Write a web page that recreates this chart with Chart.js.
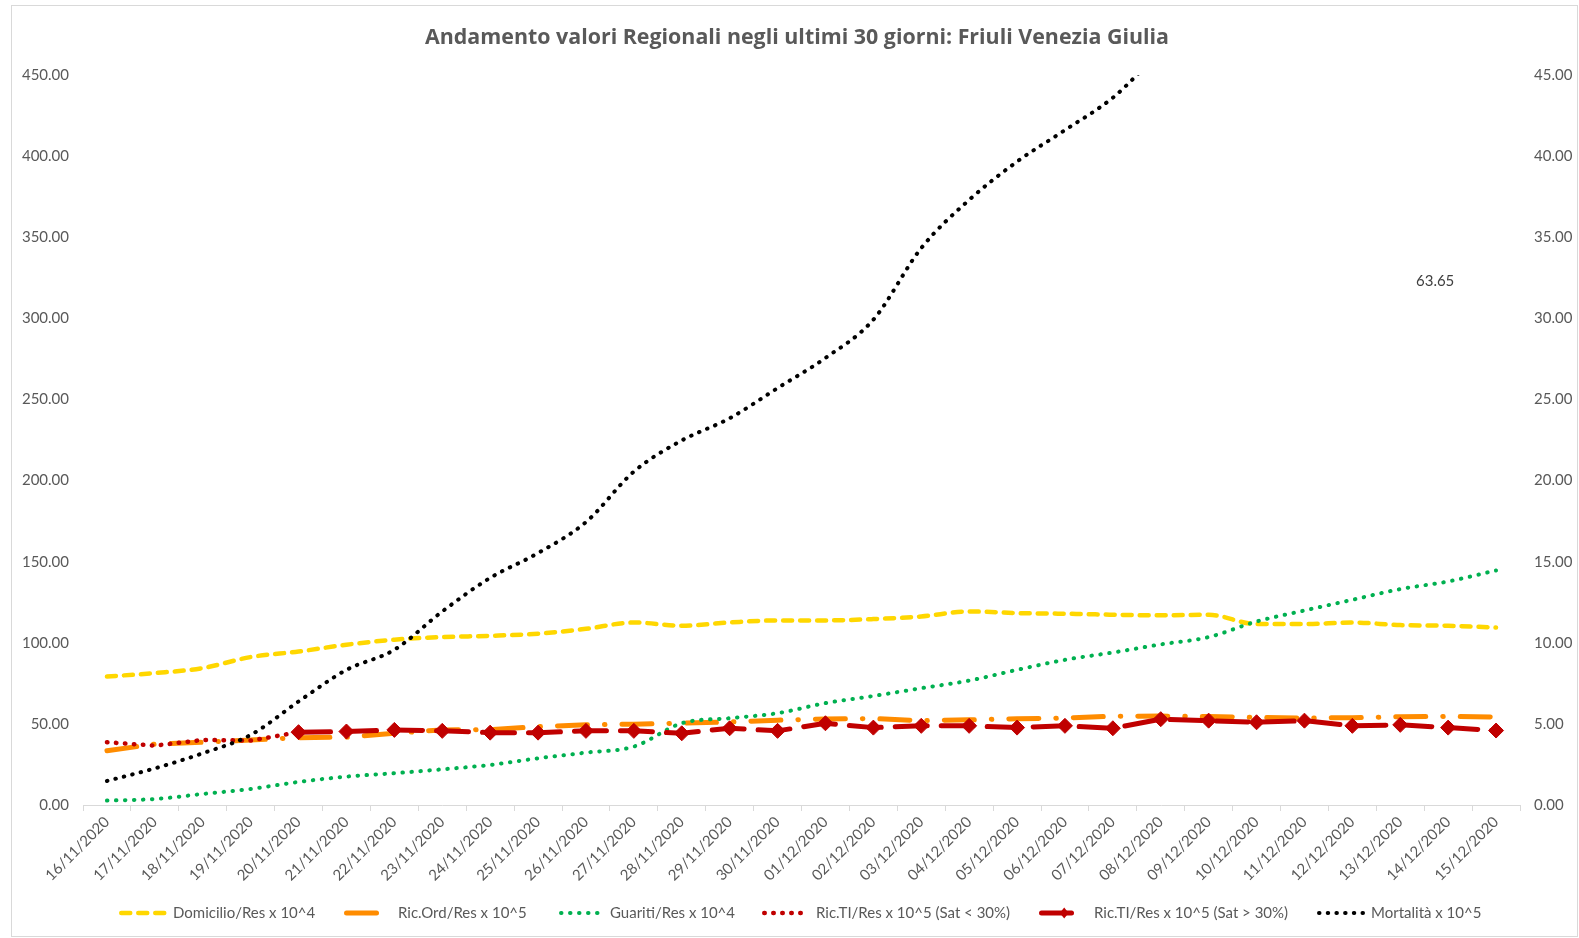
<!DOCTYPE html>
<html><head><meta charset="utf-8">
<script src="https://cdn.jsdelivr.net/npm/chart.js@4.4.1/dist/chart.umd.min.js"></script>
<style>html,body{margin:0;padding:0;background:#fff;overflow:hidden}#wrap{width:1579px;height:938px;position:relative}canvas{display:block}</style>
</head><body><div id="wrap"><canvas id="c" width="1579" height="938"></canvas></div>
<script>
const titleText = 'Andamento valori Regionali negli ultimi 30 giorni: Friuli Venezia Giulia';
const dates = ['16/11/2020','17/11/2020','18/11/2020','19/11/2020','20/11/2020','21/11/2020','22/11/2020','23/11/2020','24/11/2020','25/11/2020','26/11/2020','27/11/2020','28/11/2020','29/11/2020','30/11/2020','01/12/2020','02/12/2020','03/12/2020','04/12/2020','05/12/2020','06/12/2020','07/12/2020','08/12/2020','09/12/2020','10/12/2020','11/12/2020','12/12/2020','13/12/2020','14/12/2020','15/12/2020'];
const domicilio = [79.2,81.3,84.4,91.2,94.6,98.8,101.9,103.5,104.3,105.6,108.6,112.5,110.5,112.5,113.8,113.8,114.6,116.2,119.3,118.3,117.9,117.3,116.9,117.3,111.5,111.5,112.5,110.9,110.5,109.4];
const ricOrd = [33.5,37.5,38.7,40.1,41.5,41.8,44.2,46.3,46.5,48.3,49.4,49.8,50.4,51.2,52.3,53.0,53.3,52.0,52.5,53.2,53.6,54.7,54.8,54.5,54.0,53.6,53.8,54.4,54.6,54.2];
const guariti = [2.7,3.7,6.8,9.9,14.2,17.5,19.6,22.0,24.7,28.8,32.3,36.0,50.4,53.5,56.6,62.8,67.2,72.0,76.7,83.3,89.5,94.0,99.0,103.5,113.1,119.9,126.5,133.1,137.8,144.6];
const ricTIsatLow = [3.87,3.66,4.01,3.97,4.49,null,null,null,null,null,null,null,null,null,null,null,null,null,null,null,null,null,null,null,null,null,null,null,null,null];
const ricTIsatHigh = [null,null,null,null,4.49,4.53,4.63,4.57,4.46,4.46,4.57,4.57,4.42,4.73,4.57,5.04,4.77,4.88,4.88,4.77,4.88,4.73,5.29,5.20,5.10,5.20,4.88,4.94,4.77,4.59];
const mortalita = [1.48,2.26,3.19,4.32,6.38,8.33,9.57,11.93,14.0,15.53,17.44,20.55,22.47,23.84,25.7,27.56,29.92,34.33,37.3,39.66,41.6,43.6,46.4,48.5,50.6,52.8,55.2,57.7,60.6,63.65];
const leftTicks = {min:0, max:450, step:50};
const rightTicks = {min:0, max:45, step:5};

const FONT = 'Lato';
const TXT = '#595959';
// legend sample layout: [lineStart, lineEnd, textStart]
const legendLayout = [[119,167,173],[344,379,398],[559,604,610],[762,809,816],[1039,1074,1094],[1317,1365,1371]];

const decor = {
  id:'decor',
  beforeDraw(chart){
    const ctx = chart.ctx;
    ctx.save();
    ctx.fillStyle='#fff'; ctx.fillRect(0,0,chart.width,chart.height);
    ctx.strokeStyle='#d9d9d9'; ctx.lineWidth=1;
    ctx.strokeRect(11.5,5.5,1566,931);
    ctx.restore();
  },
  afterDraw(chart){
    const ctx = chart.ctx;
    ctx.save();
    // title
    const tf = 'Open Sans';
    let fs = 20;
    ctx.font = 'bold '+fs+'px "'+tf+'"';
    const w = ctx.measureText(titleText).width;
    fs = Math.max(16, Math.min(24, fs*745/w));
    ctx.font = 'bold '+fs.toFixed(1)+'px "'+tf+'"';
    ctx.fillStyle = TXT; ctx.textAlign='center'; ctx.textBaseline='middle';
    ctx.fillText(titleText, 797, 38);
    // legend
    ctx.textAlign='left';
    chart.data.datasets.forEach((ds,i)=>{
      const [x0,x1,tx] = legendLayout[i];
      const y = 913;
      const lw = ds.legendWidth || ds.borderWidth;
      ctx.save();
      ctx.strokeStyle = ds.borderColor; ctx.lineWidth = lw; ctx.lineCap='round';
      ctx.setLineDash(ds.legendDash || ds.borderDash || []);
      ctx.beginPath(); ctx.moveTo(x0+lw/2,y); ctx.lineTo(x1-lw/2,y); ctx.stroke();
      if (ds.pointStyle==='rectRot'){
        const cx = x0 + (x1-x0)*0.72, r=5.5;
        ctx.setLineDash([]); ctx.fillStyle = ds.pointBackgroundColor;
        ctx.beginPath(); ctx.moveTo(cx,y-r); ctx.lineTo(cx+r*0.8,y); ctx.lineTo(cx,y+r); ctx.lineTo(cx-r*0.8,y); ctx.closePath(); ctx.fill();
      }
      ctx.restore();
      ctx.fillStyle = TXT; ctx.font = '15px '+FONT; ctx.textBaseline='middle';
      ctx.fillText(ds.label, tx, y);
    });
    // floating label of last Mortalità value
    const xs = chart.scales.x;
    ctx.fillStyle='#404040'; ctx.font='15px '+FONT; ctx.textAlign='center'; ctx.textBaseline='middle';
    ctx.fillText(mortalita[mortalita.length-1].toFixed(2), xs.getPixelForValue(28)-13, 281);
    ctx.restore();
  }
};

const tickFont = {family:FONT, size:15};
new Chart(document.getElementById('c'), {
  type:'line',
  data:{
    labels: dates,
    datasets:[
      {label:'Domicilio/Res x 10^4', data:domicilio, yAxisID:'y', borderColor:'#FFD700', borderWidth:4.5, borderDash:[9,8], borderCapStyle:'round', pointRadius:0, cubicInterpolationMode:'monotone', order:6},
      {label:'Ric.Ord/Res x 10^5', data:ricOrd, yAxisID:'y', borderColor:'#FF8C00', borderWidth:5, borderDash:[30,17,0.5,17], borderCapStyle:'round', legendDash:[], pointRadius:0, tension:0, order:5},
      {label:'Guariti/Res x 10^4', data:guariti, yAxisID:'y', borderColor:'#00B050', borderWidth:4, borderDash:[0.5,8.5], borderCapStyle:'round', pointRadius:0, cubicInterpolationMode:'monotone', order:4},
      {label:'Ric.TI/Res x 10^5 (Sat < 30%)', data:ricTIsatLow, yAxisID:'y1', borderColor:'#C00000', borderWidth:4.5, borderDash:[0.5,8.5], borderCapStyle:'round', pointRadius:0, tension:0, order:3},
      {label:'Ric.TI/Res x 10^5 (Sat > 30%)', data:ricTIsatHigh, yAxisID:'y1', borderColor:'#C00000', borderWidth:5, borderDash:[32,14], borderCapStyle:'round', legendDash:[], pointStyle:'rectRot', pointRadius:7.5, pointBackgroundColor:'#C00000', pointBorderColor:'#C00000', pointBorderWidth:1, tension:0, order:2},
      {label:'Mortalità x 10^5', data:mortalita, yAxisID:'y1', borderColor:'#000000', borderWidth:4, borderDash:[0.5,8.2], borderCapStyle:'round', pointRadius:0, cubicInterpolationMode:'monotone', clip:0, order:1}
    ]
  },
  options:{
    responsive:false, animation:false, devicePixelRatio:1,
    layout:{padding:{top:75,left:0,right:0,bottom:0}},
    plugins:{legend:{display:false}, title:{display:false}, tooltip:{enabled:false}},
    elements:{line:{borderJoinStyle:'round'}},
    scales:{
      x:{type:'category', offset:true,
        grid:{offset:true, drawOnChartArea:false, drawTicks:true, tickLength:6, color:'#d9d9d9', lineWidth:1},
        border:{display:true, color:'#d9d9d9', width:1},
        ticks:{autoSkip:false, maxRotation:45, minRotation:45, color:TXT, font:tickFont, padding:2},
        afterFit(s){ s.height = 133; }
      },
      y:{position:'left', min:leftTicks.min, max:leftTicks.max,
        ticks:{stepSize:leftTicks.step, callback:v=>Number(v).toFixed(2), color:TXT, font:tickFont, padding:14},
        grid:{display:false, drawTicks:false}, border:{display:false},
        afterFit(s){ s.width = 83; }
      },
      y1:{position:'right', min:rightTicks.min, max:rightTicks.max,
        ticks:{stepSize:rightTicks.step, callback:v=>Number(v).toFixed(2), color:TXT, font:tickFont, padding:14},
        grid:{display:false, drawTicks:false}, border:{display:false},
        afterFit(s){ s.width = 59; }
      }
    }
  },
  plugins:[decor]
});
</script>
</body></html>
